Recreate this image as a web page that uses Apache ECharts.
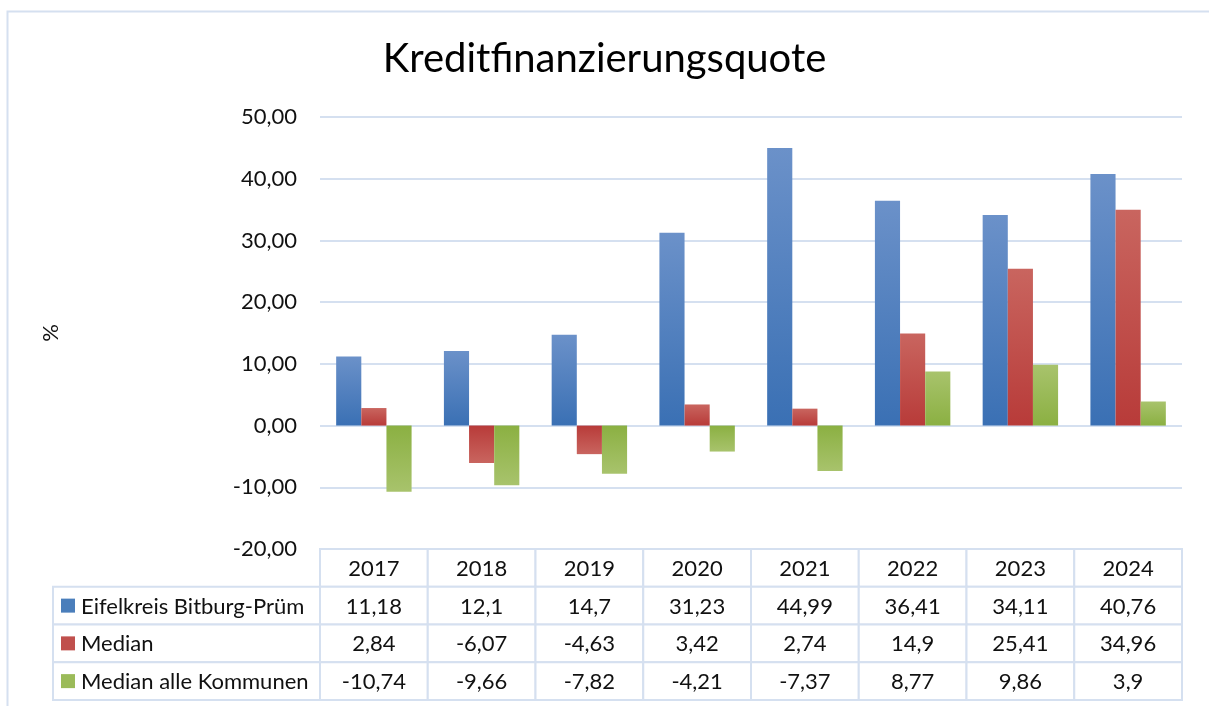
<!DOCTYPE html>
<html>
<head>
<meta charset="utf-8">
<script src="https://cdn.jsdelivr.net/npm/echarts@6/dist/echarts.min.js"></script>
<style>
  html, body { margin: 0; padding: 0; background: #fff; }
  #chart { width: 1209px; height: 706px; }
</style>
</head>
<body>
<div id="chart"></div>
<script>
// Kreditfinanzierungsquote in %, 2017–2024
const years = ['2017', '2018', '2019', '2020', '2021', '2022', '2023', '2024'];
const seriesNames = ['Eifelkreis Bitburg-Prüm', 'Median', 'Median alle Kommunen'];
const eifelkreis = [11.18, 12.1, 14.7, 31.23, 44.99, 36.41, 34.11, 40.76];
const median = [2.84, -6.07, -4.63, 3.42, 2.74, 14.9, 25.41, 34.96];
const medianAlle = [-10.74, -9.66, -7.82, -4.21, -7.37, 8.77, 9.86, 3.9];
const yMin = -20, yMax = 50, yStep = 10;

const FONT = 'Lato, "Noto Sans", sans-serif';
const LINE = '#d5e0f0';
const TEXT = '#111';

// light (value end) and dark (baseline end) shades per series
const shades = [
  { light: '#6b91c9', dark: '#3a70b4', key: '#4a7ebb' },
  { light: '#c9655f', dark: '#b83b39', key: '#c0504d' },
  { light: '#a8c36c', dark: '#8bb042', key: '#9bbb59' }
];
const allSeries = [eifelkreis, median, medianAlle];

const fmt = v => String(v).replace('.', ',');

function barGradient(s, v) {
  const stops = v >= 0
    ? [{ offset: 0, color: s.light }, { offset: 1, color: s.dark }]
    : [{ offset: 0, color: s.dark }, { offset: 1, color: s.light }];
  return new echarts.graphic.LinearGradient(0, 0, 0, 1, stops);
}

const plot = { left: 320, right: 27, top: 117, height: 432 };

// data table: header row with the years, then one row per series
const tableCells = [];
years.forEach((y, i) => tableCells.push({ pos: [i, 0], text: y }));
allSeries.forEach((vals, r) => vals.forEach((v, i) => tableCells.push({ pos: [i, r + 1], text: fmt(v) })));

function renderTableCell(params, api) {
  const c = api.coord([api.value(0), api.value(1)]);
  const s = api.size([1, 1]);
  const cell = tableCells[params.dataIndex];
  return {
    type: 'group',
    children: [
      { type: 'rect', shape: { x: c[0] - s[0] / 2, y: c[1] - s[1] / 2, width: s[0], height: s[1] },
        style: { fill: '#fff', stroke: LINE, lineWidth: 2 } },
      { type: 'text', style: { text: cell.text, x: c[0], y: c[1] + 1, align: 'center', verticalAlign: 'middle',
        fontSize: 22, fontFamily: FONT, fill: TEXT } }
    ]
  };
}

function renderLegendCell(params, api) {
  const c = api.coord([api.value(0), api.value(1)]);
  const s = api.size([1, 1]);
  const x0 = c[0] - s[0] / 2;
  const idx = params.dataIndex;
  return {
    type: 'group',
    children: [
      { type: 'rect', shape: { x: x0, y: c[1] - s[1] / 2, width: s[0], height: s[1] },
        style: { fill: '#fff', stroke: LINE, lineWidth: 2 } },
      { type: 'rect', shape: { x: x0 + 8, y: c[1] - 7, width: 14, height: 14 },
        style: { fill: shades[idx].key } },
      { type: 'text', style: { text: seriesNames[idx], x: x0 + 28, y: c[1] + 1, align: 'left', verticalAlign: 'middle',
        fontSize: 22, fontFamily: FONT, fill: TEXT } }
    ]
  };
}

const chart = echarts.init(document.getElementById('chart'), null, { renderer: 'canvas' });

chart.setOption({
  animation: false,
  backgroundColor: '#fff',
  title: {
    text: 'Kreditfinanzierungsquote',
    left: 'center',
    top: 34,
    textStyle: { fontSize: 40, fontWeight: 'normal', fontFamily: FONT, color: '#000' }
  },
  graphic: [
    { type: 'rect', shape: { x: 7.5, y: 11.5, width: 1240, height: 740 },
      style: { fill: null, stroke: LINE, lineWidth: 2 }, z: 100, silent: true }
  ],
  grid: [
    { left: plot.left, right: plot.right, top: plot.top, height: plot.height },
    { left: plot.left, right: plot.right, top: 549, height: 151 },
    { left: 53, width: 267, top: 586.75, height: 113.25 }
  ],
  xAxis: [
    { type: 'category', gridIndex: 0, data: years, show: false },
    { type: 'category', gridIndex: 1, data: years, show: false },
    { type: 'category', gridIndex: 2, data: ['legend'], show: false }
  ],
  yAxis: [
    {
      type: 'value', gridIndex: 0, min: yMin, max: yMax, interval: yStep,
      name: '%', nameLocation: 'middle', nameRotate: 90, nameGap: 258,
      nameTextStyle: { fontSize: 22, fontFamily: FONT, color: TEXT },
      axisLine: { show: false }, axisTick: { show: false },
      axisLabel: { fontSize: 22, fontFamily: FONT, color: TEXT, margin: 23,
        formatter: v => v.toFixed(2).replace('.', ',') },
      splitLine: { lineStyle: { color: LINE, width: 2 } }
    },
    { type: 'category', gridIndex: 1, inverse: true, data: ['', 's0', 's1', 's2'], show: false },
    { type: 'category', gridIndex: 2, inverse: true, data: seriesNames, show: false }
  ],
  series: [
    ...allSeries.map((vals, k) => ({
      name: seriesNames[k],
      type: 'bar',
      xAxisIndex: 0, yAxisIndex: 0,
      barGap: '0%',
      barCategoryGap: '30%',
      data: vals.map(v => ({ value: v, itemStyle: { color: barGradient(shades[k], v) } }))
    })),
    {
      type: 'custom', xAxisIndex: 1, yAxisIndex: 1,
      renderItem: renderTableCell,
      data: tableCells.map(c => c.pos),
      z: 5
    },
    {
      type: 'custom', xAxisIndex: 2, yAxisIndex: 2,
      renderItem: renderLegendCell,
      data: seriesNames.map((n, i) => [0, i]),
      z: 5
    }
  ]
});
</script>
</body>
</html>
